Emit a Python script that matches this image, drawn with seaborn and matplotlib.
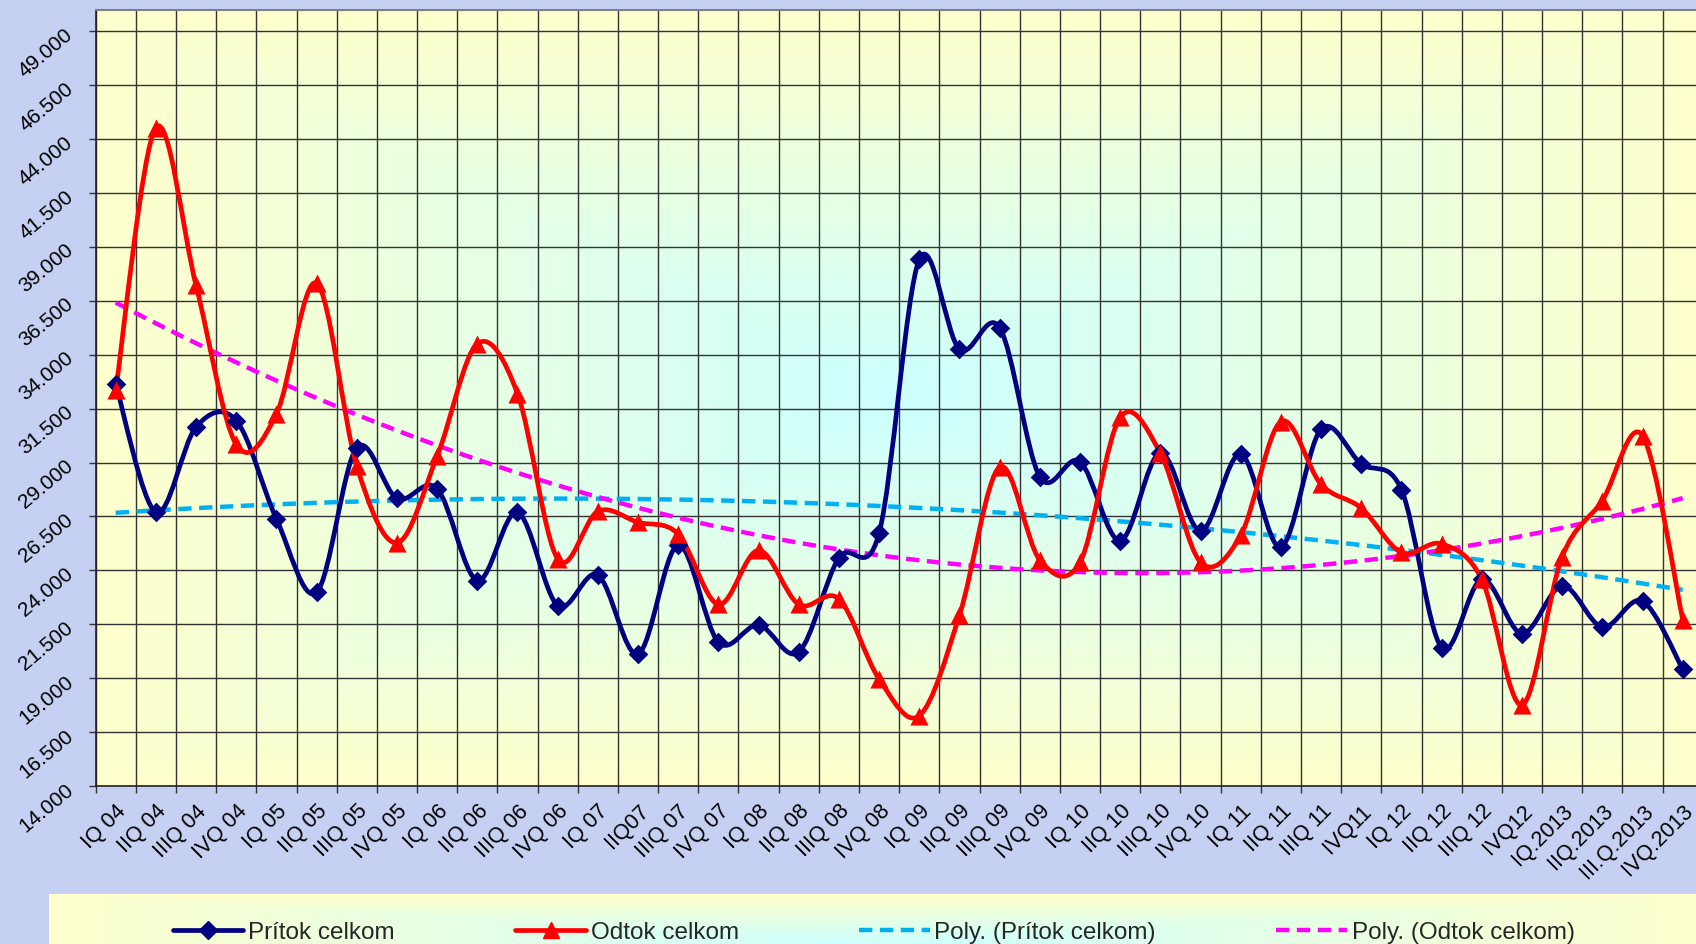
"""Prítok / Odtok celkom po štvrťrokoch 2004-2013, vyhladené čiary + polynomické trendy."""
import numpy as np
import matplotlib
matplotlib.use("Agg")
import matplotlib.pyplot as plt
from matplotlib.path import Path
from matplotlib.patches import PathPatch
from matplotlib.lines import Line2D
from matplotlib.ticker import FuncFormatter, FixedLocator
import seaborn as sns

quarters = [
    "IQ 04", "IIQ 04", "IIIQ 04", "IVQ 04",
    "IQ 05", "IIQ 05", "IIIQ 05", "IVQ 05",
    "IQ 06", "IIQ 06", "IIIQ 06", "IVQ 06",
    "IQ 07", "IIQ07", "IIIQ 07", "IVQ 07",
    "IQ 08", "IIQ 08", "IIIQ 08", "IVQ 08",
    "IQ 09", "IIQ 09", "IIIQ 09", "IVQ 09",
    "IQ 10", "IIQ 10", "IIIQ 10", "IVQ 10",
    "IQ 11", "IIQ 11", "IIIQ 11", "IVQ11",
    "IQ 12", "IIQ 12", "IIIQ 12", "IVQ12",
    "IQ.2013", "IIQ.2013", "III.Q.2013", "IVQ.2013",
]

pritok = [
    32650, 26690, 30650, 30950, 26390, 22980, 29690, 27340,
    27790, 23530, 26690, 22370, 23780, 20120, 25180, 20670,
    21470, 20220, 24580, 25730, 38420, 34260, 35260, 28340,
    29040, 25380, 29440, 25830, 29390, 25080, 30550, 28940,
    27740, 20420, 23580, 21070, 23280, 21370, 22570, 19420,
]

odtok = [
    32350, 44540, 37220, 29840, 31250, 37320, 28840, 25280,
    29290, 34510, 32200, 24530, 26740, 26230, 25680, 22420,
    24930, 22420, 22670, 18960, 17260, 21920, 28790, 24480,
    24380, 31100, 29440, 24380, 25630, 30900, 27990, 26890,
    24830, 25230, 23580, 17760, 24630, 27240, 30250, 21720,
]

labels = ["Prítok celkom", "Odtok celkom",
          "Poly. (Prítok celkom)", "Poly. (Odtok celkom)"]

NAVY = "#000080"
RED = "#ff0000"
CYAN = "#00b0f0"
MAGENTA = "#ff00ff"
YELLOW = np.array([1.0, 1.0, 0.8])
TURQ = np.array([0.8, 1.0, 1.0])
DASH = (0, (3, 1.7))


def center_gradient(nx, ny):
    # pale yellow at the edges, light turquoise in the middle
    u = np.abs(np.linspace(-1, 1, nx))[None, :]
    v = np.abs(np.linspace(-1, 1, ny))[:, None]
    t = np.maximum(u, v)[..., None]
    return TURQ * (1 - t) + YELLOW * t


def smooth_path(xs, ys):
    # Excel-like smoothed line: cubic Bezier through the points
    pts = np.column_stack([xs, ys]).astype(float)
    ext = np.vstack([pts[0], pts, pts[-1]])
    verts = [pts[0]]
    codes = [Path.MOVETO]
    for i in range(len(pts) - 1):
        p0, p1, p2, p3 = ext[i], ext[i + 1], ext[i + 2], ext[i + 3]
        verts += [p1 + (p2 - p0) / 6, p2 - (p3 - p1) / 6, p2]
        codes += [Path.CURVE4] * 3
    return Path(verts, codes)


sns.set_theme(style="ticks")
plt.rcParams["font.family"] = ["Liberation Sans", "DejaVu Sans"]

W, H = 1696, 945
fig = plt.figure(figsize=(W / 100, H / 100), dpi=100)
fig.patch.set_facecolor("#c6d0f2")

ax = fig.add_axes([95.6 / W, 158 / H, 1607.2 / W, 776.2 / H])
xpos = np.arange(len(quarters))

ax.imshow(center_gradient(400, 300), extent=(-0.5, 39.5, 14000, 50000),
          aspect="auto", zorder=0, interpolation="bilinear")

# polynomial trend lines
sns.regplot(x=xpos, y=np.array(pritok), order=2, scatter=False, ci=None,
            truncate=True, ax=ax,
            line_kws=dict(color=CYAN, lw=3.2, ls=DASH, zorder=2))
sns.regplot(x=xpos, y=np.array(odtok), order=2, scatter=False, ci=None,
            truncate=True, ax=ax,
            line_kws=dict(color=MAGENTA, lw=3.2, ls=DASH, zorder=2))

# smoothed series
ax.add_patch(PathPatch(smooth_path(xpos, pritok), fill=False,
                       edgecolor=NAVY, lw=3.4, zorder=3, capstyle="round"))
ax.add_patch(PathPatch(smooth_path(xpos, odtok), fill=False,
                       edgecolor=RED, lw=3.4, zorder=3, capstyle="round"))
sns.scatterplot(x=xpos, y=pritok, marker="D", s=100, color=NAVY,
                edgecolor=NAVY, linewidth=0, ax=ax, zorder=4, legend=False)
sns.scatterplot(x=xpos, y=odtok, marker="^", s=170, color=RED,
                edgecolor=RED, linewidth=0, ax=ax, zorder=4, legend=False)

ax.set_xlim(-0.5, 39.5)
ax.set_ylim(14000, 50000)
ax.set_xlabel("")
ax.set_ylabel("")

# axes, ticks and grid
ax.set_xticks(xpos)
ax.set_xticklabels(quarters, rotation=45, ha="right", va="top",
                   rotation_mode="anchor", fontsize=15.5)
ax.xaxis.set_minor_locator(FixedLocator(np.arange(-0.5, 40, 1)))
ax.set_yticks(np.arange(14000, 49001, 2500))
ax.yaxis.set_major_formatter(
    FuncFormatter(lambda v, p: f"{v:,.0f}".replace(",", ".")))
for lab in ax.get_yticklabels():
    lab.set_rotation(40)
    lab.set_ha("right")
    lab.set_va("center")
    lab.set_rotation_mode("anchor")
    lab.set_fontsize(15)

ax.tick_params(axis="x", which="major", length=0, pad=10, colors="black")
ax.tick_params(axis="x", which="minor", length=5, width=1,
               direction="out", color="#333333")
ax.tick_params(axis="y", which="major", length=5, width=1, pad=13,
               direction="out", color="#333333", labelcolor="black")
ax.grid(which="minor", axis="x", color="#333333", lw=1)
ax.grid(which="major", axis="y", color="#333333", lw=1)
ax.set_axisbelow(True)
for side in ["left", "bottom"]:
    ax.spines[side].set_color("#222222")
    ax.spines[side].set_linewidth(1.2)
ax.spines["top"].set_color("#808080")
ax.spines["top"].set_linewidth(1.5)
ax.spines["right"].set_visible(False)

# legend box at the bottom
lax = fig.add_axes([48.7 / W, -50 / H, 1660 / W, 100 / H])
lax.imshow(center_gradient(400, 60), aspect="auto", interpolation="bilinear")
lax.axis("off")

handles = [
    Line2D([], [], color=NAVY, lw=3.4, marker="D", ms=9.5),
    Line2D([], [], color=RED, lw=3.4, marker="^", ms=12),
    Line2D([], [], color=CYAN, lw=3.2, ls=DASH),
    Line2D([], [], color=MAGENTA, lw=3.2, ls=DASH),
]
fig.legend(handles, labels, loc="center left",
           bbox_to_anchor=(173 / W, 12 / H), ncol=4, frameon=False,
           fontsize=17.5, handlelength=2.9, handletextpad=0.2,
           columnspacing=4.95, borderpad=0, borderaxespad=0)

fig.savefig("out.png", dpi=100, facecolor=fig.get_facecolor())
